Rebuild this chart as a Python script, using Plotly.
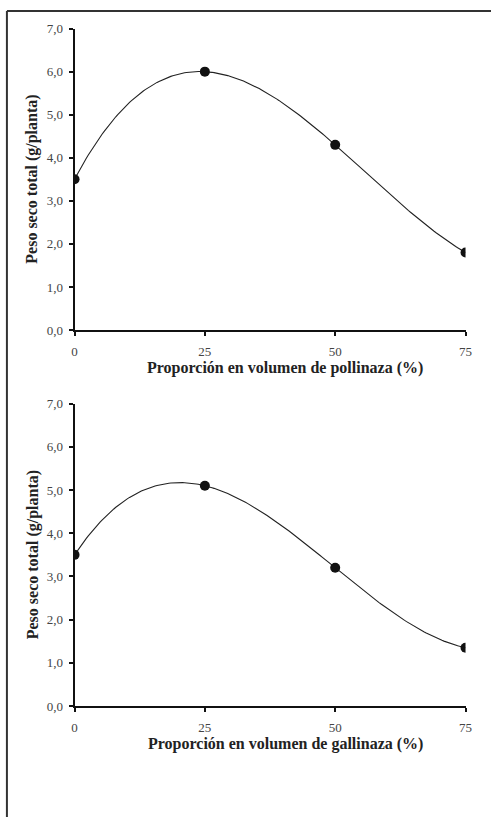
import numpy as np
import plotly.graph_objects as go

# Dry weight (g/plant) by proportion of manure in the substrate
proporcion = [0, 25, 50, 75]
peso_pollinaza = [3.5, 6.0, 4.3, 1.8]
peso_gallinaza = [3.5, 5.1, 3.2, 1.35]

x_ticks = [0, 25, 50, 75]
y_ticks = [0, 1, 2, 3, 4, 5, 6, 7]

W, H = 498, 825
FONT = "Liberation Serif, Times New Roman, serif"

# pixel layout of the two panels
X0, X1 = 73, 472
panels = [
    dict(top=22, bottom=329, y=peso_pollinaza,
         title="Proporción en volumen de pollinaza (%)"),
    dict(top=404, bottom=712, y=peso_gallinaza,
         title="Proporción en volumen de gallinaza (%)"),
]

fig = go.Figure()
annotations = []

for i, p in enumerate(panels, start=1):
    xa = "x" if i == 1 else f"x{i}"
    ya = "y" if i == 1 else f"y{i}"

    # third-order polynomial trend line through the measured points
    coef = np.polyfit(proporcion, p["y"], 3)
    xs = np.linspace(min(proporcion), max(proporcion), 200)
    fig.add_trace(go.Scatter(
        x=xs, y=np.polyval(coef, xs), mode="lines",
        line=dict(color="#222222", width=1.1),
        xaxis=xa, yaxis=ya, showlegend=False, hoverinfo="skip"))
    fig.add_trace(go.Scatter(
        x=proporcion, y=p["y"], mode="markers",
        marker=dict(color="#111111", size=10),
        xaxis=xa, yaxis=ya, showlegend=False))

    ydom = [1 - p["bottom"] / H, 1 - p["top"] / H]
    axis_common = dict(
        showline=True, linecolor="#111111", linewidth=2,
        ticks="outside", ticklen=4, tickwidth=2, tickcolor="#111111",
        showgrid=False, zeroline=False,
        tickfont=dict(family=FONT, size=13, color="#444444"),
    )
    fig.update_layout(**{
        ("xaxis" if i == 1 else f"xaxis{i}"): dict(
            axis_common, domain=[X0 / W, X1 / W], range=[0, 75],
            tickvals=x_ticks, anchor=ya, ticklabelstandoff=4),
        ("yaxis" if i == 1 else f"yaxis{i}"): dict(
            axis_common, domain=ydom, range=[0, 7],
            tickvals=y_ticks, tickformat=".1f", anchor=xa,
            ticklabelstandoff=3),
    })

    annotations.append(dict(
        text=f"<b>{p['title']}</b>", xref="paper", yref="paper",
        x=288 / W, y=1 - (p["bottom"] + 39) / H, xanchor="center",
        yanchor="middle", showarrow=False,
        font=dict(family=FONT, size=16, color="#222222")))
    annotations.append(dict(
        text="<b>Peso seco total (g/planta)</b>", xref="paper", yref="paper",
        x=30 / W, y=1 - ((p["top"] + p["bottom"]) / 2) / H,
        xanchor="center", yanchor="middle", textangle=-90, showarrow=False,
        font=dict(family=FONT, size=16, color="#222222")))

fig.update_layout(
    width=W, height=H,
    margin=dict(l=0, r=0, t=0, b=0),
    paper_bgcolor="white", plot_bgcolor="white",
    separators=",.",
    annotations=annotations,
    shapes=[
        dict(type="line", xref="paper", yref="paper",
             x0=4 / W, x1=1, y0=1 - 4 / H, y1=1 - 4 / H,
             line=dict(color="#333333", width=2)),
        dict(type="line", xref="paper", yref="paper",
             x0=4 / W, x1=4 / W, y0=0, y1=1 - 4 / H,
             line=dict(color="#333333", width=2)),
    ],
)

fig.write_html("out.html")
